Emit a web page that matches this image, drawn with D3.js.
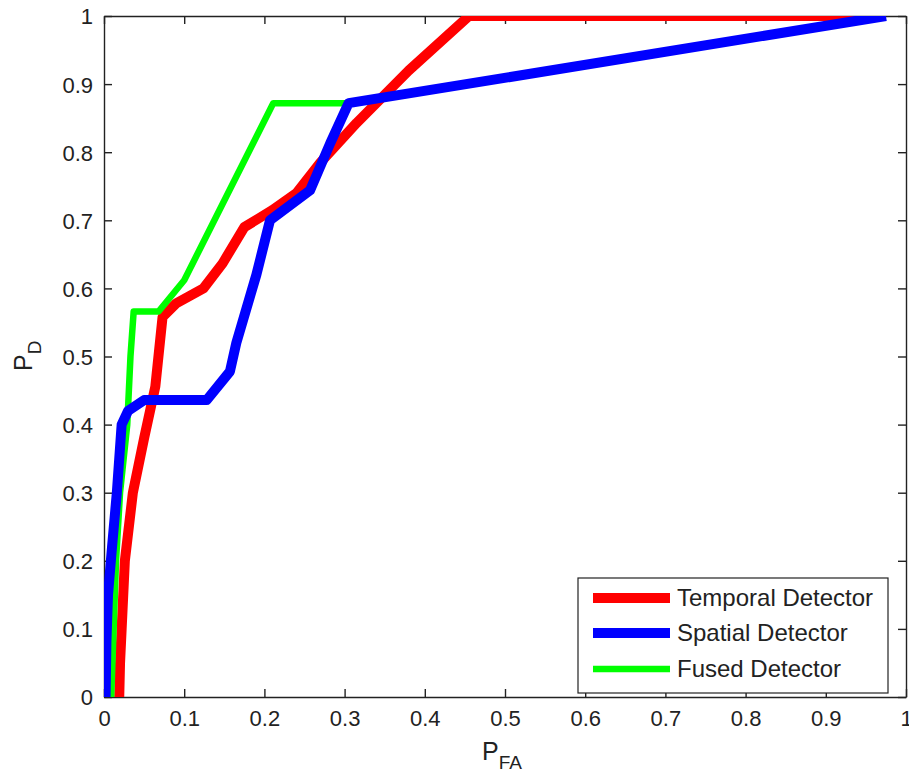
<!DOCTYPE html>
<html>
<head>
<meta charset="utf-8">
<script src="https://cdn.jsdelivr.net/npm/d3@7"></script>
<style>
  body { margin: 0; background: #fff; }
  text { font-family: "Liberation Sans", Arial, sans-serif; fill: #222; }
</style>
</head>
<body>
<div id="chart"></div>
<script>
// ROC curves
const temporalX = [0.019, 0.02, 0.022, 0.026, 0.036, 0.05, 0.064, 0.073, 0.09, 0.124, 0.148, 0.175, 0.21, 0.24, 0.27, 0.315, 0.38, 0.455, 0.975];
const temporalY = [0, 0.05, 0.1, 0.2, 0.3, 0.38, 0.456, 0.558, 0.578, 0.6, 0.637, 0.69, 0.715, 0.74, 0.785, 0.843, 0.92, 1, 1];

const spatialX = [0.002, 0.003, 0.005, 0.01, 0.016, 0.022, 0.03, 0.05, 0.128, 0.157, 0.165, 0.19, 0.207, 0.257, 0.282, 0.305, 0.975];
const spatialY = [0, 0.08, 0.15, 0.22, 0.3, 0.4, 0.42, 0.436, 0.436, 0.478, 0.52, 0.62, 0.7, 0.744, 0.813, 0.872, 1];

const fusedX = [0.009, 0.012, 0.015, 0.02, 0.029, 0.033, 0.037, 0.068, 0.1, 0.211, 0.302];
const fusedY = [0, 0.1, 0.2, 0.3, 0.4, 0.5, 0.566, 0.566, 0.612, 0.872, 0.872];

const tickValues = [0, 0.1, 0.2, 0.3, 0.4, 0.5, 0.6, 0.7, 0.8, 0.9, 1];
const seriesNames = ["Temporal Detector", "Spatial Detector", "Fused Detector"];
const seriesColors = ["#ff0000", "#0000ff", "#00ff00"];
const seriesWidths = [10, 10, 6.5];
const drawOrder = [0, 2, 1]; // blue sits on top of the green end

const margin = {top: 16, right: 3, bottom: 78, left: 104};
const W = 909, H = 775;
const width = W - margin.left - margin.right,
      height = H - margin.top - margin.bottom;

const svg = d3.select("#chart").append("svg")
    .attr("width", W)
    .attr("height", H);

const g = svg.append("g")
    .attr("transform", `translate(${margin.left},${margin.top})`);

const x = d3.scaleLinear().domain([0, 1]).range([0, width]);
const y = d3.scaleLinear().domain([0, 1]).range([height, 0]);

g.append("clipPath").attr("id", "clip")
  .append("rect").attr("width", width).attr("height", height);

const fmt = d => d === 0 ? "0" : d === 1 ? "1" : d3.format(".1f")(d);

// ticks inward on all four sides
const axisB = g.append("g").attr("transform", `translate(0,${height})`)
  .call(d3.axisBottom(x).tickValues(tickValues).tickFormat(fmt).tickSizeInner(-8).tickSizeOuter(0).tickPadding(13));
const axisL = g.append("g")
  .call(d3.axisLeft(y).tickValues(tickValues).tickFormat(fmt).tickSizeInner(-8).tickSizeOuter(0).tickPadding(11));
const axisT = g.append("g")
  .call(d3.axisTop(x).tickValues(tickValues).tickFormat("").tickSizeInner(-8).tickSizeOuter(0));
const axisR = g.append("g").attr("transform", `translate(${width},0)`)
  .call(d3.axisRight(y).tickValues(tickValues).tickFormat("").tickSizeInner(-8).tickSizeOuter(0));

[axisB, axisL, axisT, axisR].forEach(a => {
  a.select(".domain").attr("stroke", "#222").attr("stroke-width", 1.4);
  a.selectAll(".tick line").attr("stroke", "#222").attr("stroke-width", 1.4);
  a.selectAll(".tick text").style("font-size", "22px").attr("fill", "#222");
});
axisL.selectAll(".tick text").attr("dy", "0.36em");

const line = d3.line().x(d => x(d[0])).y(d => y(d[1]));
const series = [
  d3.zip(temporalX, temporalY),
  d3.zip(spatialX, spatialY),
  d3.zip(fusedX, fusedY)
];

const plot = g.append("g").attr("clip-path", "url(#clip)");
plot.selectAll("path.curve")
  .data(drawOrder)
  .join("path")
    .attr("class", "curve")
    .attr("fill", "none")
    .attr("stroke", i => seriesColors[i])
    .attr("stroke-width", i => seriesWidths[i])
    .attr("stroke-linejoin", "round")
    .attr("d", i => line(series[i]));

// axis labels
svg.append("text")
    .attr("x", 482).attr("y", 760)
    .style("font-size", "25px")
    .html('P<tspan dy="9" style="font-size:19px">FA</tspan>');

svg.append("text")
    .attr("transform", "translate(32,371) rotate(-90)")
    .style("font-size", "25px")
    .html('P<tspan dy="9" style="font-size:19px">D</tspan>');

// legend
const legend = svg.append("g");
legend.append("rect")
    .attr("x", 578).attr("y", 578)
    .attr("width", 310).attr("height", 115)
    .attr("fill", "#fff")
    .attr("stroke", "#222")
    .attr("stroke-width", 1.2);

const rowY = [598, 633, 669];
seriesNames.forEach((name, i) => {
  legend.append("line")
      .attr("x1", 593).attr("x2", 670)
      .attr("y1", rowY[i]).attr("y2", rowY[i])
      .attr("stroke", seriesColors[i])
      .attr("stroke-width", seriesWidths[i]);
  legend.append("text")
      .attr("x", 677).attr("y", rowY[i] + 8)
      .style("font-size", "24px")
      .text(name);
});
</script>
</body>
</html>
